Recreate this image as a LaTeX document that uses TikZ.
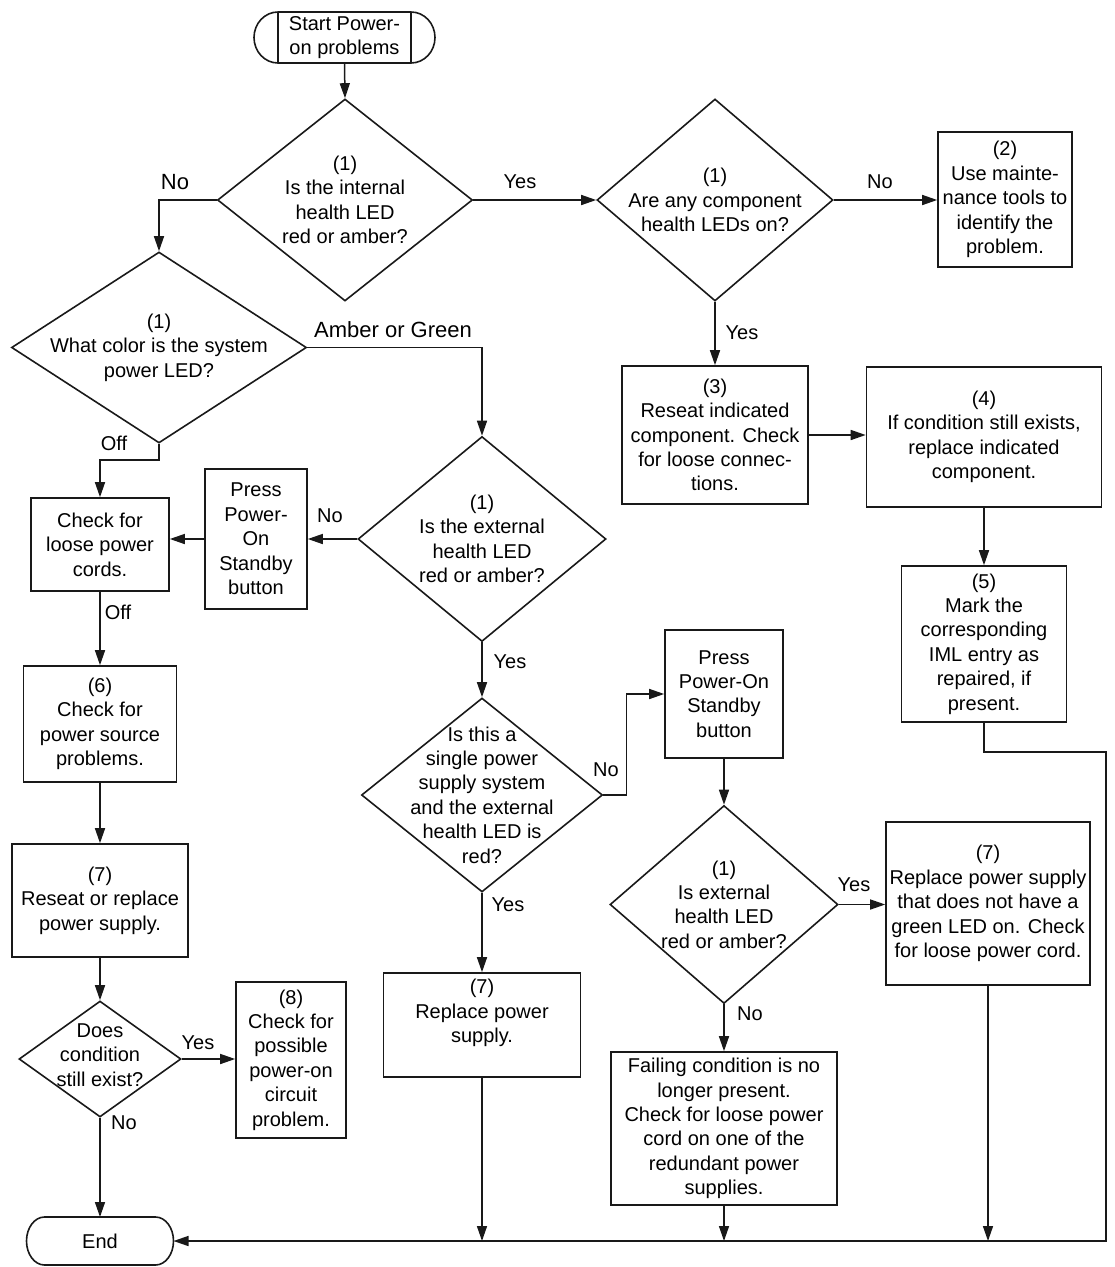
\documentclass[tikz,border=0pt]{standalone}
\usepackage{fontspec}
\setmainfont{Liberation Sans}
\usetikzlibrary{shapes.geometric,arrows.meta,calc}
\begin{document}
\begin{tikzpicture}[x=1pt,y=1pt,
  every node/.style={font=\fontsize{20}{24.4}\selectfont, align=center, text=black},
  ln/.style={draw=black!90, line width=1.6pt},
  box/.style={ln, rectangle, inner sep=0pt},
  dia/.style={ln, diamond, inner sep=0pt},
  arr/.style={draw=black!90, line width=1.5pt, -{Triangle[length=15pt,width=10pt]}},
  lbl/.style={inner sep=0pt},
  big/.style={font=\fontsize{22}{26}\selectfont}
]
\useasboundingbox (0,0) rectangle (1115,-1267);

% terminals
\node[minimum width=181, minimum height=51, inner sep=0, outer sep=0] (start) at (344.5,-37.5) {Start Power-\\on problems};
\draw[ln] ($(start.north west)+(24,0)$) -- ($(start.north east)+(-24,0)$)
  arc[start angle=90,end angle=-90,x radius=24,y radius=25.5]
  -- ($(start.south west)+(24,0)$)
  arc[start angle=270,end angle=90,x radius=24,y radius=25.5] -- cycle;
\draw[ln] ($(start.north west)+(24,0)$) -- ($(start.south west)+(24,0)$);
\draw[ln] ($(start.north east)+(-24,0)$) -- ($(start.south east)+(-24,0)$);

\node[minimum width=147, minimum height=48, inner sep=0, outer sep=0] (end) at (100,-1241) {End};
\draw[ln] ($(end.north west)+(18,0)$) -- ($(end.north east)+(-18,0)$)
  arc[start angle=90,end angle=-90,x radius=18,y radius=24]
  -- ($(end.south west)+(18,0)$)
  arc[start angle=270,end angle=90,x radius=18,y radius=24] -- cycle;

% diamonds
\node[dia, minimum width=255, minimum height=202, label={center:{(1)\\Is the internal\\health LED\\red or amber?}}] (d1) at (345,-200) {};
\node[dia, minimum width=236, minimum height=202, label={center:{(1)\\Are any component\\health LEDs on?}}] (d3) at (715,-200) {};
\node[dia, minimum width=295, minimum height=191, label={center:{(1)\\What color is the system\\power LED?}}] (d2) at (159,-347.5) {};
\node[dia, minimum width=248, minimum height=205, label={center:{(1)\\Is the external\\health LED\\red or amber?}}] (d4) at (482,-539) {};
\node[dia, minimum width=241, minimum height=194, label={center:{Is this a\\single power\\supply system\\and the external\\health LED is\\red?}}] (d6) at (482,-795) {};
\node[dia, minimum width=228, minimum height=198, label={center:{(1)\\Is external\\health LED\\red or amber?}}] (d7) at (724,-904.5) {};
\node[dia, minimum width=162, minimum height=116, label={[yshift=4pt]center:{Does\\condition\\still exist?}}] (d5) at (100,-1059) {};

% boxes
\node[box, minimum width=134, minimum height=135] (b2) at (1005,-199.5) {(2)\\Use mainte-\\nance tools to\\identify the\\problem.};
\node[box, minimum width=186, minimum height=138] (b3) at (715,-435) {(3)\\Reseat indicated\\component. Check\\for loose connec-\\tions.};
\node[box, minimum width=235, minimum height=140] (b4) at (984,-437) {(4)\\If condition still exists,\\replace indicated\\component.};
\node[box, minimum width=165, minimum height=156] (b5) at (984,-644) {(5)\\Mark the\\corresponding\\IML entry as\\repaired, if\\present.};
\node[box, minimum width=102, minimum height=140] (p1) at (256,-539) {Press\\Power-\\On\\Standby\\button};
\node[box, minimum width=138, minimum height=93] (cords) at (100,-544.5) {Check for\\loose power\\cords.};
\node[box, minimum width=153, minimum height=116] (b6) at (100,-724) {(6)\\Check for\\power source\\problems.};
\node[box, minimum width=176, minimum height=113] (b7a) at (100,-900.5) {(7)\\Reseat or replace\\power supply.};
\node[box, minimum width=110, minimum height=156] (b8) at (291,-1060) {(8)\\Check for\\possible\\power-on\\circuit\\problem.};
\node[box, minimum width=118, minimum height=128] (p2) at (724,-694) {Press\\Power-On\\Standby\\button};
\node[box, minimum width=204, minimum height=163] (b7c) at (988,-903.5) {(7)\\Replace power supply\\that does not have a\\green LED on. Check\\for loose power cord.};
\node[box, minimum width=197, minimum height=104] (b7b) at (482,-1025) {(7)\\Replace power\\supply.\\[4pt]};
\node[box, minimum width=226, minimum height=153] (bf) at (724,-1128.5) {Failing condition is no\\longer present.\\Check for loose power\\cord on one of the\\redundant power\\supplies.};

% helper coordinates
\coordinate (k1) at (159,-460);
\coordinate (k2) at (626.5,-795);
\coordinate (r1) at (1106,-752);
\coordinate (r2) at (1106,-1241);

% connectors
\draw[arr] (start.south) -- (d1.north);
\draw[arr] (d1.west) -| (d2.north);
\draw[arr] (d1.east) -- (d3.west);
\draw[arr] (d3.east) -- (d3.east -| b2.west);
\draw[arr] (d3.south) -- (b3.north);
\draw[arr] (b3.east) -- (b3.east -| b4.west);
\draw[arr] (b4.south) -- (b5.north);
\draw[arr] (b5.south) |- (r1) -- (r2) -- (end.east);
\draw[arr] (d2.east) -| (d4.north);
\draw[arr] (d2.south) -- (k1) -| (cords.north);
\draw[arr] (d4.west) -- (p1.east);
\draw[arr] (p1.west) -- (p1.west -| cords.east);
\draw[arr] (cords.south) -- (b6.north);
\draw[arr] (b6.south) -- (b7a.north);
\draw[arr] (b7a.south) -- (d5.north);
\draw[arr] (d5.east) -- (d5.east -| b8.west);
\draw[arr] (d5.south) -- (end.north);
\draw[arr] (d4.south) -- (d6.north);
\draw[arr] (d6.east) -- (k2) |- (p2.west);
\draw[arr] (p2.south) -- (d7.north);
\draw[arr] (d7.east) -- (d7.east -| b7c.west);
\draw[arr] (d7.south) -- (bf.north);
\draw[arr] (d6.south) -- (b7b.north);
\draw[arr] (b7b.south) -- (b7b.south |- r2);
\draw[arr] (bf.south) -- (bf.south |- r2);
\draw[arr] (b7c.south) -- (b7c.south |- r2);

% labels
\node[lbl, big] (l1) at (175,-182) {No};
\node[lbl] (l2) at (520,-182) {Yes};
\node[lbl] (l3) at (880,-182) {No};
\node[lbl] (l4) at (742,-333) {Yes};
\node[lbl, big] (l5) at (393,-330) {Amber or Green};
\node[lbl] (l6) at (114,-443) {Off};
\node[lbl] (l7) at (330,-516) {No};
\node[lbl] (l8) at (118,-612) {Off};
\node[lbl] (l9) at (510,-662) {Yes};
\node[lbl] (l10) at (606,-770) {No};
\node[lbl] (l11) at (508,-905) {Yes};
\node[lbl] (l12) at (854,-885) {Yes};
\node[lbl] (l13) at (750,-1014) {No};
\node[lbl] (l14) at (198,-1043) {Yes};
\node[lbl] (l15) at (124,-1123) {No};
\end{tikzpicture}
\end{document}
